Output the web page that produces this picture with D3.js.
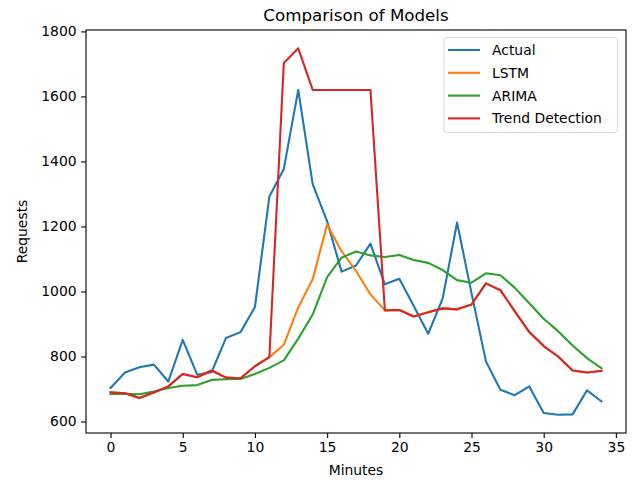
<!DOCTYPE html>
<html>
<head>
<meta charset="utf-8">
<script src="https://cdn.jsdelivr.net/npm/d3@7"></script>
<style>
html,body{margin:0;padding:0;background:#fff;}
svg{display:block;font-family:"DejaVu Sans",sans-serif;}
</style>
</head>
<body>
<svg id="chart" width="635" height="480"></svg>
<script>
const minutes = d3.range(0, 35);
const actual = [703,751,767,775,723,851,744,752,857,875,952,1292,1377,1620,1330,1216,1061,1080,1147,1022,1039,955,870,978,1212,995,785,698,681,708,626,621,622,696,662];
const lstm = [690,687,672,689,708,746,736,757,735,733,770,798,836,951,1038,1206,1124,1063,991,942,943,923,936,948,945,960,1025,1004,939,875,832,800,757,751,756];
const arima = [685,685,684,692,703,710,712,728,730,731,746,765,788,855,929,1044,1104,1123,1111,1106,1112,1097,1088,1066,1035,1027,1056,1050,1011,964,916,878,834,795,764];
const trend = [690,687,672,689,708,746,736,757,735,733,770,798,1703,1748,1620,1620,1620,1620,1620,942,943,923,936,948,945,960,1025,1004,939,875,832,800,757,751,756];
const seriesNames = ["Actual","LSTM","ARIMA","Trend Detection"];
const seriesColors = ["#1f77b4","#ff7f0e","#2ca02c","#d62728"];
const xTicks = [0,5,10,15,20,25,30,35];
const yTicks = [600,800,1000,1200,1400,1600,1800];

const svg = d3.select("#chart");
const L = 86, R = 626, T = 30, B = 433;

const all = actual.concat(lstm, arima, trend);
const ymin = d3.min(all), ymax = d3.max(all);
const ypad = (ymax - ymin) * 0.05;
const x = d3.scaleLinear().domain([-1.7, 35.7]).range([L, R]);
const y = d3.scaleLinear().domain([ymin - ypad, ymax + ypad]).range([B, T]);

const series = [actual, lstm, arima, trend];
const line = d3.line().x((d, i) => x(minutes[i])).y(d => y(d));
series.forEach((s, k) => {
  svg.append("path").datum(s).attr("d", line)
    .attr("fill", "none").attr("stroke", seriesColors[k])
    .attr("stroke-width", 2.1).attr("stroke-linejoin", "round").attr("stroke-linecap", "square");
});

// frame
svg.append("rect").attr("x", L).attr("y", T).attr("width", R - L).attr("height", B - T)
  .attr("fill", "none").attr("stroke", "#000").attr("stroke-width", 1.1);

const xAxis = d3.axisBottom(x).tickValues(xTicks).tickSize(4.9).tickPadding(4.5).tickFormat(d3.format("d"));
const gx = svg.append("g").attr("transform", `translate(0,${B})`).call(xAxis);
gx.select(".domain").remove();
gx.selectAll("text").attr("font-size", "13.9px").attr("fill", "#000").attr("font-family", "DejaVu Sans");
gx.selectAll("line").attr("stroke", "#000").attr("stroke-width", 1.1);

const yAxis = d3.axisLeft(y).tickValues(yTicks).tickSize(4.9).tickPadding(4.5).tickFormat(d3.format("d"));
const gy = svg.append("g").attr("transform", `translate(${L},0)`).call(yAxis);
gy.select(".domain").remove();
gy.selectAll("text").attr("font-size", "13.9px").attr("fill", "#000").attr("font-family", "DejaVu Sans");
gy.selectAll("line").attr("stroke", "#000").attr("stroke-width", 1.1);

svg.append("text").attr("x", (L + R) / 2).attr("y", 21).attr("text-anchor", "middle")
  .attr("font-size", "16.7px").attr("fill", "#000").text("Comparison of Models");
svg.append("text").attr("x", (L + R) / 2).attr("y", 475).attr("text-anchor", "middle")
  .attr("font-size", "13.9px").attr("fill", "#000").text("Minutes");
svg.append("text").attr("transform", `translate(27,${(T + B) / 2}) rotate(-90)`).attr("text-anchor", "middle")
  .attr("font-size", "13.9px").attr("fill", "#000").text("Requests");

// legend
const lg = svg.append("g");
lg.append("rect").attr("x", 444).attr("y", 37.5).attr("width", 173.5).attr("height", 95)
  .attr("rx", 3).attr("fill", "#fff").attr("fill-opacity", 0.8).attr("stroke", "#d9d9d9").attr("stroke-width", 1);
seriesNames.forEach((n, k) => {
  const cy = 50 + k * 22.8;
  lg.append("line").attr("x1", 448).attr("x2", 480).attr("y1", cy).attr("y2", cy)
    .attr("stroke", seriesColors[k]).attr("stroke-width", 2.1);
  lg.append("text").attr("x", 492).attr("y", cy + 5).attr("font-size", "13.9px").attr("fill", "#000").text(n);
});
</script>
</body>
</html>
